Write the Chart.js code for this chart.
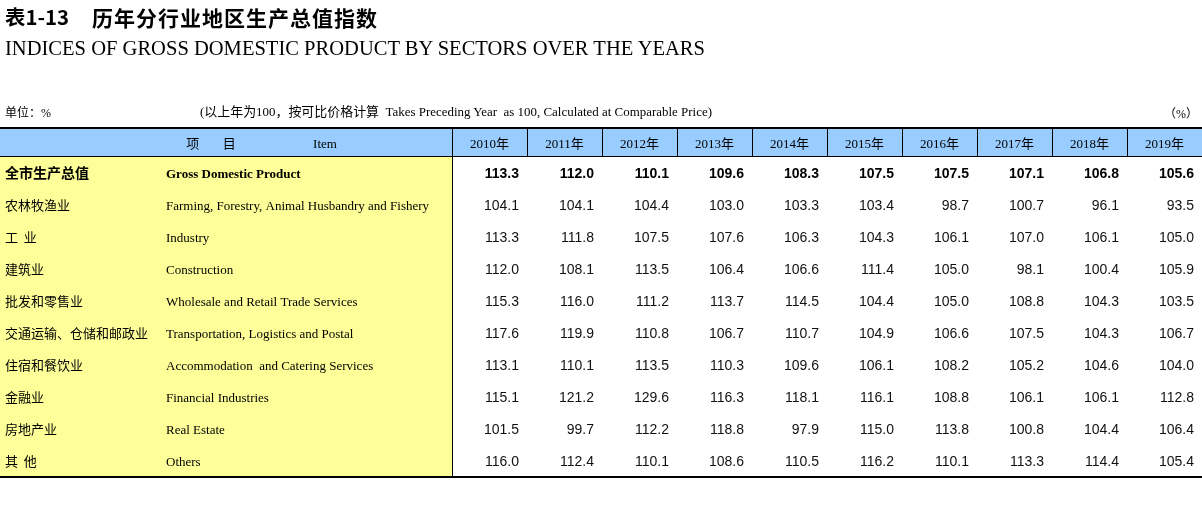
<!DOCTYPE html>
<html>
<head>
<meta charset="utf-8">
<script src="https://cdn.jsdelivr.net/npm/chart.js@4/dist/chart.umd.min.js"></script>
<style>
  html, body { margin: 0; padding: 0; background: #fff; }
  #wrap { position: relative; width: 1202px; height: 510px; overflow: hidden; }
  canvas { position: absolute; left: 0; top: 0; }
  .t { position: absolute; white-space: nowrap; color: #000; transform-origin: left center; display: inline-block; }
  #t1a { left: 5px; top: 6px; font: bold 20px/22px "Noto Sans CJK SC", sans-serif; }
  #t1b { left: 92px; top: 5px; font: bold 21px/24px "Noto Sans CJK SC", sans-serif; letter-spacing: 1px; }
  #t2 { left: 5px; top: 35px; font: 22px/26px "Liberation Serif", serif; }
  #unit { left: 5px; top: 104px; font: 12px/16px "Noto Sans CJK SC", sans-serif; }
  #unit span { font-family: "Liberation Serif", serif; }
  #note { left: 200px; top: 103px; font: 13px/18px "Liberation Serif", "Noto Sans CJK SC", serif; }
  #pct { left: 1164px; top: 105px; font: 12px/16px "Noto Sans CJK SC", sans-serif; }
  #pct span { font-family: "Liberation Serif", serif; }
</style>
</head>
<body>
<div id="wrap">
  <canvas id="c" width="1202" height="510"></canvas>
  <div class="t" id="t1a">表1-13</div>
  <div class="t" id="t1b">历年分行业地区生产总值指数</div>
  <div class="t" id="t2">INDICES OF GROSS DOMESTIC PRODUCT BY SECTORS OVER THE YEARS</div>
  <div class="t" id="unit">单位：<span>%</span></div>
  <div class="t" id="note">(以上年为100，按可比价格计算&nbsp; Takes Preceding Year&nbsp; as 100, Calculated at Comparable Price)</div>
  <div class="t" id="pct">（<span>%</span>）</div>
</div>
<script>
// ---- data ----
const years = ['2010年','2011年','2012年','2013年','2014年','2015年','2016年','2017年','2018年','2019年'];
const sectorsZh = ['全市生产总值','农林牧渔业','工  业','建筑业','批发和零售业','交通运输、仓储和邮政业','住宿和餐饮业','金融业','房地产业','其  他'];
const sectorsEn = ['Gross Domestic Product','Farming, Forestry, Animal Husbandry and Fishery','Industry','Construction','Wholesale and Retail Trade Services','Transportation, Logistics and Postal','Accommodation  and Catering Services','Financial Industries','Real Estate','Others'];
const gdp           = [113.3, 112.0, 110.1, 109.6, 108.3, 107.5, 107.5, 107.1, 106.8, 105.6];
const farming       = [104.1, 104.1, 104.4, 103.0, 103.3, 103.4,  98.7, 100.7,  96.1,  93.5];
const industry      = [113.3, 111.8, 107.5, 107.6, 106.3, 104.3, 106.1, 107.0, 106.1, 105.0];
const construction  = [112.0, 108.1, 113.5, 106.4, 106.6, 111.4, 105.0,  98.1, 100.4, 105.9];
const wholesale     = [115.3, 116.0, 111.2, 113.7, 114.5, 104.4, 105.0, 108.8, 104.3, 103.5];
const transport     = [117.6, 119.9, 110.8, 106.7, 110.7, 104.9, 106.6, 107.5, 104.3, 106.7];
const accommodation = [113.1, 110.1, 113.5, 110.3, 109.6, 106.1, 108.2, 105.2, 104.6, 104.0];
const financial     = [115.1, 121.2, 129.6, 116.3, 118.1, 116.1, 108.8, 106.1, 106.1, 112.8];
const realEstate    = [101.5,  99.7, 112.2, 118.8,  97.9, 115.0, 113.8, 100.8, 104.4, 106.4];
const others        = [116.0, 112.4, 110.1, 108.6, 110.5, 116.2, 110.1, 113.3, 114.4, 105.4];
const rows = [gdp, farming, industry, construction, wholesale, transport, accommodation, financial, realEstate, others];

// ---- layout in scale units (1 unit = one year column / one body row) ----
const ITEM_UNITS = 452 / 75;
const TOTAL_UNITS = ITEM_UNITS + years.length;
const HEADER_UNITS = 30 / 32;
const BODY_END = HEADER_UNITS + rows.length;
const ZH_LEFT = 5 / 75, EN_LEFT = 166 / 75, HEAD_ZH = 211 / 75, HEAD_EN = 325 / 75;

const SERIF = '"Liberation Serif", "Noto Sans CJK SC", serif';
const SANS = '"Liberation Sans", Arial, sans-serif';
const CJK = '"Noto Sans CJK SC", sans-serif';

const tablePlugin = {
  id: 'table',
  beforeDatasetsDraw(chart) {
    const ctx = chart.ctx, xs = chart.scales.x, ys = chart.scales.y;
    const X = v => xs.getPixelForValue(v), Y = v => ys.getPixelForValue(v);
    ctx.save();
    ctx.fillStyle = '#99ccff';
    ctx.fillRect(X(0), Y(0), X(TOTAL_UNITS) - X(0), Y(HEADER_UNITS) - Y(0));
    ctx.fillStyle = '#ffff99';
    ctx.fillRect(X(0), Y(HEADER_UNITS), X(ITEM_UNITS) - X(0), Y(BODY_END) - Y(HEADER_UNITS));
    ctx.restore();
  },
  afterDatasetsDraw(chart) {
    const ctx = chart.ctx, xs = chart.scales.x, ys = chart.scales.y;
    const X = v => xs.getPixelForValue(v), Y = v => ys.getPixelForValue(v);
    const W = X(TOTAL_UNITS) - X(0);
    ctx.save();
    // rules
    ctx.fillStyle = '#000';
    ctx.fillRect(X(0), Y(0), W, 2);
    ctx.fillRect(X(0), Math.round(Y(HEADER_UNITS)) - 1, W, 1);
    for (let k = 0; k < years.length; k++) {
      const xx = Math.round(X(ITEM_UNITS + k));
      ctx.fillRect(xx, Y(0), 1, Y(HEADER_UNITS) - Y(0));
    }
    ctx.fillRect(Math.round(X(ITEM_UNITS)), Y(HEADER_UNITS), 1, Y(BODY_END) - Y(HEADER_UNITS));
    ctx.fillRect(X(0), Math.round(Y(BODY_END)) - 1, W, 2);

    // header texts
    const hy = Y(HEADER_UNITS / 2) + 1;
    ctx.textBaseline = 'alphabetic';
    ctx.fillStyle = '#000';
    ctx.textAlign = 'center';
    ctx.font = '13px ' + CJK;
    ctx.fillText('项        目', X(HEAD_ZH), hy + 5);
    ctx.font = '13px ' + SERIF;
    ctx.fillText('Item', X(HEAD_EN), hy + 4.5);
    years.forEach((yr, i) => ctx.fillText(yr, X(ITEM_UNITS + i + 0.5), hy + 4.5));

    // row labels
    rows.forEach((vals, r) => {
      const ry = Y(HEADER_UNITS + r + 0.5);
      ctx.textAlign = 'left';
      ctx.font = (r === 0 ? 'bold 14px ' : '13px ') + CJK;
      ctx.fillText(sectorsZh[r], X(ZH_LEFT), ry + 5);
      ctx.font = (r === 0 ? 'bold 13px ' : '13px ') + SERIF;
      ctx.fillText(sectorsEn[r], X(EN_LEFT), ry + 4.5);
    });

    // values at each point element
    chart.data.datasets.forEach((ds, r) => {
      const meta = chart.getDatasetMeta(r);
      ctx.font = (r === 0 ? 'bold 14px ' : '14px ') + SANS;
      ctx.textAlign = 'right';
      ctx.fillStyle = r === 0 ? '#000' : '#111';
      const half = (X(1) - X(0)) / 2;
      meta.data.forEach((el, i) => {
        ctx.fillText(rows[r][i].toFixed(1), el.x + half - 8, el.y + 5);
      });
    });
    ctx.restore();
  }
};

new Chart(document.getElementById('c'), {
  type: 'scatter',
  data: {
    datasets: rows.map((vals, r) => ({
      label: sectorsEn[r],
      data: vals.map((v, i) => ({ x: ITEM_UNITS + i + 0.5, y: HEADER_UNITS + r + 0.5 })),
      pointRadius: 0,
      pointHoverRadius: 0
    }))
  },
  options: {
    responsive: false,
    animation: false,
    events: [],
    layout: { padding: { left: 0, right: 0, top: 127, bottom: 33 } },
    scales: {
      x: { type: 'linear', min: 0, max: TOTAL_UNITS, display: false },
      y: { type: 'linear', min: 0, max: BODY_END, reverse: true, display: false }
    },
    plugins: { legend: { display: false }, tooltip: { enabled: false } }
  },
  plugins: [tablePlugin]
});

// fit title texts to their measured widths in the reference
function fit(id, width) {
  const el = document.getElementById(id);
  const w = el.getBoundingClientRect().width;
  if (w > 0) el.style.transform = 'scaleX(' + (width / w) + ')';
}
fit('t1a', 64);
fit('t1b', 286);
fit('t2', 700);
fit('note', 512);
</script>
</body>
</html>
